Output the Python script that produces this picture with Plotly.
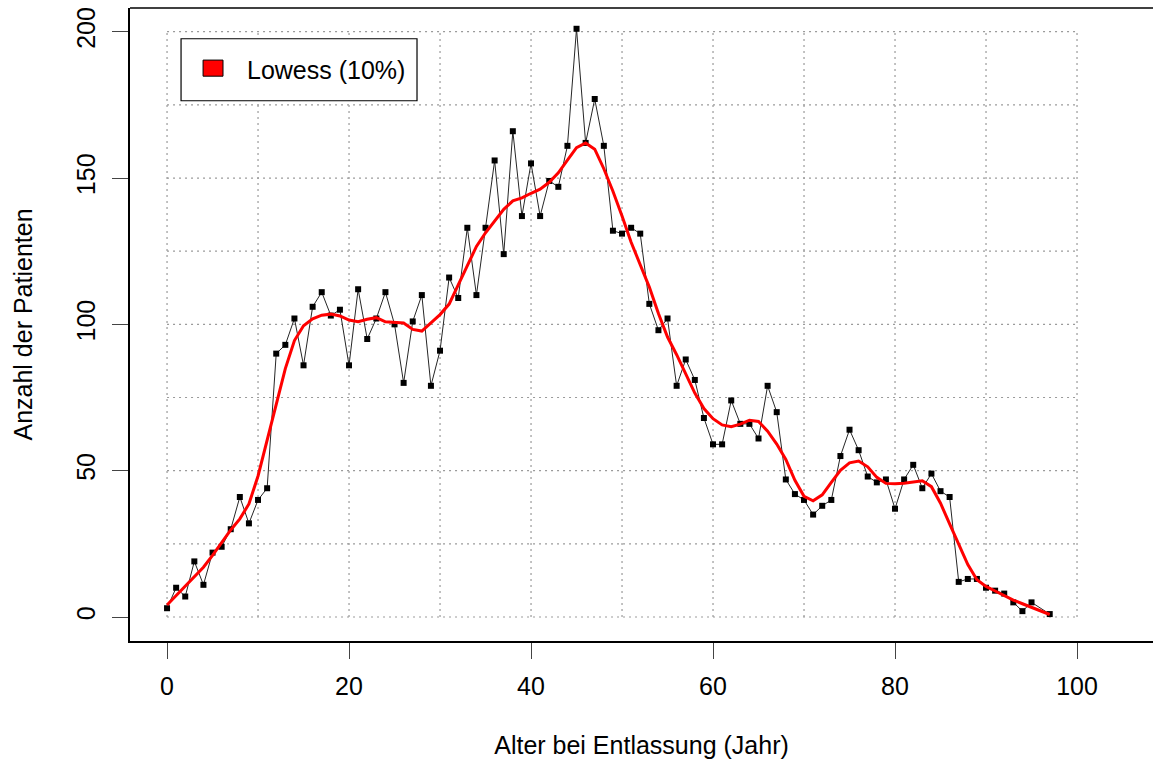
import numpy as np
import plotly.graph_objects as go

# Patients by age at discharge (no cases recorded at age 96)
ages = [0, 1, 2, 3, 4, 5, 6, 7, 8, 9, 10, 11, 12, 13, 14, 15, 16, 17, 18, 19,
        20, 21, 22, 23, 24, 25, 26, 27, 28, 29, 30, 31, 32, 33, 34, 35, 36, 37, 38, 39,
        40, 41, 42, 43, 44, 45, 46, 47, 48, 49, 50, 51, 52, 53, 54, 55, 56, 57, 58, 59,
        60, 61, 62, 63, 64, 65, 66, 67, 68, 69, 70, 71, 72, 73, 74, 75, 76, 77, 78, 79,
        80, 81, 82, 83, 84, 85, 86, 87, 88, 89, 90, 91, 92, 93, 94, 95, 97]
patients = [3, 10, 7, 19, 11, 22, 24, 30, 41, 32, 40, 44, 90, 93, 102, 86, 106, 111, 103, 105,
            86, 112, 95, 102, 111, 100, 80, 101, 110, 79, 91, 116, 109, 133, 110, 133, 156, 124, 166, 137,
            155, 137, 149, 147, 161, 201, 162, 177, 161, 132, 131, 133, 131, 107, 98, 102, 79, 88, 81, 68,
            59, 59, 74, 66, 66, 61, 79, 70, 47, 42, 40, 35, 38, 40, 55, 64, 57, 48, 46, 47,
            37, 47, 52, 44, 49, 43, 41, 12, 13, 13, 10, 9, 8, 5, 2, 5, 1]

x_ticks = [0, 20, 40, 60, 80, 100]
y_ticks = [0, 50, 100, 150, 200]
smoother_span = 0.10
legend_label = "Lowess (10%)"


def lowess(x, y, f=2 / 3, nsteps=3):
    """Locally weighted scatterplot smoothing (Cleveland's algorithm)."""
    x = np.asarray(x, float)
    y = np.asarray(y, float)
    n = len(x)
    ns = max(2, min(n, int(f * n + 1e-7)))
    rng = x[-1] - x[0]
    rw = np.ones(n)
    ys = np.zeros(n)
    for it in range(nsteps + 1):
        nleft, nright = 0, ns - 1
        for i in range(n):
            while nright < n - 1 and x[i] - x[nleft] > x[nright + 1] - x[i]:
                nleft += 1
                nright += 1
            h = max(x[i] - x[nleft], x[nright] - x[i])
            h9, h1 = 0.999 * h, 0.001 * h
            w = np.zeros(n)
            j = nleft
            while j < n:
                r = abs(x[j] - x[i])
                if r <= h9:
                    w[j] = 1.0 if r <= h1 else (1 - (r / h) ** 3) ** 3
                    if it > 0:
                        w[j] *= rw[j]
                elif x[j] > x[i]:
                    break
                j += 1
            a = w.sum()
            if a <= 0:
                ys[i] = y[i]
                continue
            w /= a
            if h > 0:
                c_x = np.sum(w * x)
                b = x[i] - c_x
                c = np.sum(w * (x - c_x) ** 2)
                if np.sqrt(c) > 0.001 * rng:
                    w = w * (b / c * (x - c_x) + 1)
            ys[i] = np.sum(w * y)
        if it == nsteps:
            break
        res = np.abs(y - ys)
        cmad = 6 * np.median(res)
        if cmad < 1e-7 * res.mean():
            break
        rw = np.where(res <= 0.001 * cmad, 1.0,
                      np.where(res <= 0.999 * cmad, (1 - (res / cmad) ** 2) ** 2, 0.0))
    return ys


smooth = lowess(ages, patients, f=smoother_span)

FONT = "Liberation Sans, Arial, sans-serif"

fig = go.Figure()

# raw counts, connected
fig.add_trace(go.Scatter(
    x=ages, y=patients, mode="lines+markers",
    line=dict(color="#262626", width=1),
    marker=dict(symbol="square", size=6, color="black"),
    showlegend=False, hoverinfo="x+y",
))

# smoothed curve
fig.add_trace(go.Scatter(
    x=ages, y=smooth, mode="lines",
    line=dict(color="#ff0000", width=3),
    showlegend=False, name=legend_label,
))

shapes = []
grid_style = dict(color="#9a9a9a", width=1.2, dash="2px,4px")
for gx in range(0, 101, 10):
    shapes.append(dict(type="line", xref="x", yref="y", x0=gx, x1=gx, y0=0, y1=200,
                       line=grid_style, layer="below"))
for gy in range(0, 201, 25):
    shapes.append(dict(type="line", xref="x", yref="y", x0=0, x1=100, y0=gy, y1=gy,
                       line=grid_style, layer="below"))

# top edge of the plot frame
shapes.append(dict(type="line", xref="paper", yref="paper", x0=0, x1=1, y0=1, y1=1,
                   line=dict(color="black", width=1.5)))

# legend box with filled key
shapes.append(dict(type="rect", xref="x", yref="y", x0=1.54, x1=27.47, y0=176.4, y1=197.6,
                   line=dict(color="black", width=1.2), fillcolor="white"))
shapes.append(dict(type="rect", xref="x", yref="y", x0=3.96, x1=6.15, y0=184.8, y1=190.3,
                   line=dict(color="black", width=1), fillcolor="#ff0000"))

annotations = [dict(
    x=8.55, y=186.9, xref="x", yref="y", text=legend_label, showarrow=False,
    xanchor="left", yanchor="middle", font=dict(family=FONT, size=25, color="black"),
)]

fig.update_layout(
    width=1153, height=762,
    margin=dict(l=130, r=0, t=8, b=121),
    paper_bgcolor="white", plot_bgcolor="white",
    shapes=shapes, annotations=annotations,
    font=dict(family=FONT, size=25, color="black"),
    xaxis=dict(
        range=[-4.07, 108.35], tickvals=x_ticks, ticktext=[str(v) for v in x_ticks],
        ticks="outside", ticklen=16, tickwidth=1.3, tickcolor="#444444",
        ticklabelstandoff=6,
        showline=True, linecolor="black", linewidth=1.5,
        showgrid=False, zeroline=False,
        tickfont=dict(family=FONT, size=25, color="black"),
        title=dict(text="Alter bei Entlassung (Jahr)", font=dict(family=FONT, size=25, color="black"),
                   standoff=38),
        automargin=False,
    ),
    yaxis=dict(
        range=[-8.2, 208.1], tickvals=y_ticks, ticktext=[str(v) for v in y_ticks],
        ticks="outside", ticklen=16, tickwidth=1.3, tickcolor="#444444",
        tickangle=-90, ticklabelstandoff=7,
        showline=True, linecolor="black", linewidth=1.5,
        showgrid=False, zeroline=False,
        tickfont=dict(family=FONT, size=25, color="black"),
        title=dict(text="Anzahl der Patienten", font=dict(family=FONT, size=25, color="black"),
                   standoff=33),
        automargin=False,
    ),
)

fig.write_html("out.html")
